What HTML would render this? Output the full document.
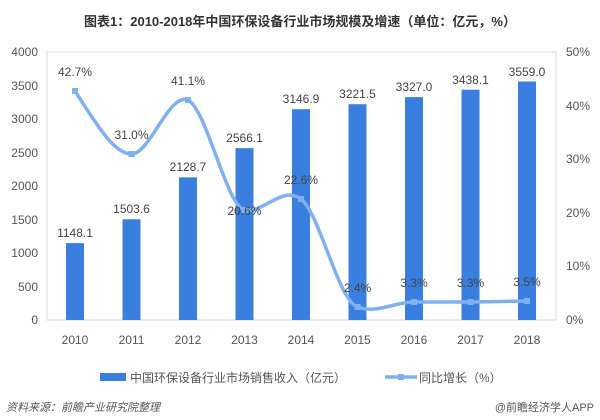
<!DOCTYPE html>
<html><head><meta charset="utf-8"><style>
body{margin:0;background:#fff;width:600px;height:415px;overflow:hidden;font-family:"Liberation Sans","Noto Sans CJK SC",sans-serif}
</style></head><body>
<svg width="600" height="415" xmlns="http://www.w3.org/2000/svg" font-family="Liberation Sans, Noto Sans CJK SC, sans-serif">
<text x="300" y="26" text-anchor="middle" font-size="13" font-weight="bold" fill="#333">图表1：2010-2018年中国环保设备行业市场规模及增速（单位：亿元，%）</text>
<rect x="47" y="52" width="509" height="268" fill="none" stroke="#d9d9d9"/>
<g font-size="12" fill="#555">
<text x="38" y="56" text-anchor="end">4000</text>
<text x="38" y="90" text-anchor="end">3500</text>
<text x="38" y="123" text-anchor="end">3000</text>
<text x="38" y="157" text-anchor="end">2500</text>
<text x="38" y="190" text-anchor="end">2000</text>
<text x="38" y="224" text-anchor="end">1500</text>
<text x="38" y="257" text-anchor="end">1000</text>
<text x="38" y="291" text-anchor="end">500</text>
<text x="38" y="324" text-anchor="end">0</text>
<text x="566" y="56">50%</text>
<text x="566" y="110">40%</text>
<text x="566" y="163">30%</text>
<text x="566" y="217">20%</text>
<text x="566" y="270">10%</text>
<text x="566" y="324">0%</text>
</g>
<g fill="#3a7fe0">
<rect x="66" y="243.1" width="18" height="76.9"/>
<rect x="122.5" y="219.3" width="18" height="100.7"/>
<rect x="179" y="177.4" width="18" height="142.6"/>
<rect x="235.5" y="148.1" width="18" height="171.9"/>
<rect x="292" y="109.2" width="18" height="210.8"/>
<rect x="348.5" y="104.2" width="18" height="215.8"/>
<rect x="405" y="97.1" width="18" height="222.9"/>
<rect x="461.5" y="89.7" width="18" height="230.3"/>
<rect x="518" y="81.5" width="18" height="238.5"/>
</g>
<path d="M75,91 C94,120 113,154 131.5,154 C150,154 169,92 188,100 C207,110 226,205 244.5,210 C263,214 282,185 301,199 C320,214 338,300 357.5,307 C376,314 395,302 414,302 L470.5,302 L527,301" fill="none" stroke="#7fb0f0" stroke-width="3.5"/>
<g fill="#7fb0f0">
<rect x="72" y="88" width="6" height="6"/><rect x="128.5" y="151" width="6" height="6"/><rect x="185" y="97" width="6" height="6"/><rect x="241.5" y="207" width="6" height="6"/><rect x="298" y="196" width="6" height="6"/><rect x="354.5" y="304" width="6" height="6"/><rect x="411" y="299" width="6" height="6"/><rect x="467.5" y="299" width="6" height="6"/><rect x="524" y="298" width="6" height="6"/>
</g>
<g font-size="12" fill="#444" text-anchor="middle">
<text x="75" y="237">1148.1</text><text x="131.5" y="213">1503.6</text><text x="188" y="171">2128.7</text><text x="244.5" y="142">2566.1</text><text x="301" y="103">3146.9</text><text x="357.5" y="98">3221.5</text><text x="414" y="91">3327.0</text><text x="470.5" y="84">3438.1</text><text x="527" y="76">3559.0</text>
<text x="75" y="76">42.7%</text><text x="131.5" y="139">31.0%</text><text x="188" y="85">41.1%</text><text x="244.5" y="215">20.6%</text><text x="301" y="184">22.6%</text><text x="357.5" y="292">2.4%</text><text x="414" y="287">3.3%</text><text x="470.5" y="287">3.3%</text><text x="527" y="286">3.5%</text>
</g>
<g font-size="12" fill="#555" text-anchor="middle">
<text x="75" y="344">2010</text><text x="131.5" y="344">2011</text><text x="188" y="344">2012</text><text x="244.5" y="344">2013</text><text x="301" y="344">2014</text><text x="357.5" y="344">2015</text><text x="414" y="344">2016</text><text x="470.5" y="344">2017</text><text x="527" y="344">2018</text>
</g>
<rect x="100" y="373" width="26" height="8" fill="#3a7fe0"/>
<text x="130" y="382" font-size="12" fill="#555">中国环保设备行业市场销售收入（亿元）</text>
<line x1="385" y1="377" x2="417" y2="377" stroke="#7fb0f0" stroke-width="3.5"/>
<rect x="398" y="374" width="6" height="6" fill="#7fb0f0"/>
<text x="419" y="382" font-size="12" fill="#555">同比增长（%）</text>
<text x="6" y="411" font-size="11" fill="#555" font-style="italic">资料来源：前瞻产业研究院整理</text>
<text x="594" y="411" font-size="11" fill="#555" text-anchor="end">@前瞻经济学人APP</text>
</svg>
</body></html>
